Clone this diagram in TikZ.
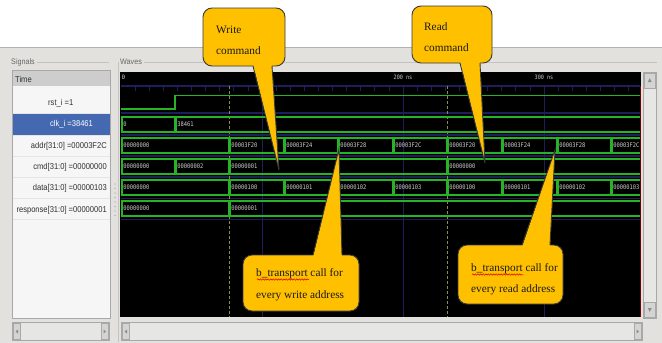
\documentclass[tikz,border=0pt]{standalone}
\usepackage{fontspec}
\setmainfont{Liberation Serif}
\setsansfont{Liberation Sans}
\newfontfamily\wavemono{DejaVu Sans Mono}
\usetikzlibrary{decorations.pathmorphing}

\definecolor{winbg}{HTML}{E2E1DD}
\definecolor{listbg}{HTML}{F6F6F6}
\definecolor{timebg}{HTML}{CDCDCD}
\definecolor{selbg}{HTML}{4469B0}
\definecolor{wavegreen}{HTML}{26B426}
\definecolor{gridnavy}{HTML}{1E1E5C}
\definecolor{cursorcol}{HTML}{8C8C52}
\definecolor{calloutfill}{HTML}{FFC000}
\definecolor{calloutedge}{HTML}{3A3A3A}
\definecolor{valgray}{HTML}{CCCCCC}
\definecolor{labelgray}{HTML}{303030}
\definecolor{framegray}{HTML}{A8A8A8}
\definecolor{barbg}{HTML}{E6E6E4}

% condensed text for the signal names and values
\newcommand\narrowtext[2]{\scalebox{#1}[1]{#2}}

\tikzset{
  bus/.style={draw=wavegreen, line width=1.4pt},
  wire/.style={draw=wavegreen, line width=1.4pt},
  busval/.style={anchor=west, inner sep=0pt, text=valgray,
    font=\wavemono\fontsize{6.3}{7}\selectfont},
  siglabel/.style={inner sep=0pt, text=labelgray,
    font=\sffamily\fontsize{8.5}{9}\selectfont},
  paneltitle/.style={anchor=west, inner sep=0pt, text=black!60,
    font=\sffamily\fontsize{8}{9}\selectfont},
  rulerlabel/.style={inner sep=0pt, text=valgray,
    font=\wavemono\fontsize{6}{7}\selectfont},
  gridline/.style={draw=gridnavy, line width=0.9pt},
  rowsep/.style={draw=gridnavy, line width=1.4pt},
  cursorline/.style={draw=cursorcol, line width=0.9pt, dash pattern=on 3pt off 2pt},
  calloutbox/.style={fill=calloutfill, draw=calloutedge, line width=0.9pt, rounded corners=9pt},
  callouttail/.style={fill=calloutfill},
  tailedge/.style={draw=calloutedge, line width=0.9pt},
  callouttext/.style={anchor=base west, inner sep=0pt, text=black!90,
    font=\rmfamily\fontsize{11.3}{13}\selectfont},
  squiggle/.style={draw=red!85!black, line width=0.5pt, decorate,
    decoration={snake, amplitude=0.7pt, segment length=2.6pt}},
  scrollbox/.style={fill=barbg, draw=framegray, line width=0.6pt},
  scrollbtn/.style={fill=barbg!92!black, draw=framegray, line width=0.5pt},
}

% one bus signal: name, top, bottom, middle, list of start/end/value
\newcommand\busrow[5]{%
  \foreach \a/\b/\t [count=\k] in {#5} {
    \draw[bus] (\a+0.8,#2) rectangle (\b-0.8,#3);
    \node[busval] (#1\k) at (\a+2.2,#4) {\narrowtext{0.86}{\t}};
  }%
}

\begin{document}
\begin{tikzpicture}[x=1pt,y=-1pt]
\useasboundingbox (0,0) rectangle (662,343);

% window background
\fill[white] (0,0) rectangle (662,47);
\fill[winbg] (0,47) rectangle (662,343);
\draw[black!30, line width=0.6pt] (0,47.5) -- (662,47.5);

% group frames
\node[paneltitle] (sigtitle) at (11,62) {\narrowtext{0.9}{Signals}};
\node[paneltitle] (wavtitle) at (120,62) {\narrowtext{0.9}{Waves}};
\draw[framegray!70, line width=0.5pt] (sigtitle.east) ++(2,0) -- (109,62);
\draw[framegray!70, line width=0.5pt] (wavtitle.east) ++(2,0) -- (657,62);
\draw[framegray!70, line width=0.5pt] (118,62) -- (118,342);

% signal list
\fill[listbg] (12,70) rectangle (110,318);
\fill[timebg] (12,71) rectangle (110,86);
\node[siglabel, anchor=west] (timelbl) at (15,79) {\narrowtext{0.89}{Time}};
\foreach \y in {113.5,135,156,177,198.5,219.5}
  \draw[black!10, line width=0.4pt] (12,\y) -- (110,\y);
\fill[selbg] (13,114) rectangle (110,134.5);
\node[siglabel, anchor=west] (lrst) at (48,103) {\narrowtext{0.89}{rst\_i =1}};
\node[siglabel, anchor=west, text=white] (lclk) at (50,124.5) {\narrowtext{0.89}{clk\_i =38461}};
\node[siglabel, anchor=east] (laddr) at (107,146) {\narrowtext{0.89}{addr[31:0] =00003F2C}};
\node[siglabel, anchor=east] (lcmd) at (107,167) {\narrowtext{0.89}{cmd[31:0] =00000000}};
\node[siglabel, anchor=east] (ldata) at (107,188) {\narrowtext{0.89}{data[31:0] =00000103}};
\node[siglabel, anchor=east] (lresp) at (107,210) {\narrowtext{0.89}{response[31:0] =00000001}};
\draw[framegray, line width=0.5pt] (12,70) rectangle (110,318);

% splitter grip
\foreach \y in {184,188.5,...,216}
  \fill[black!40] (115,\y) circle (0.7pt);

% wave area
\fill[black] (120,72) rectangle (641,317);

% ruler
\draw[gridnavy, line width=1.4pt] (121,86) -- (640,86);
\foreach \i in {1,...,36}
  \draw[gridnavy, line width=0.8pt] (121+\i*14.1,86) -- ++(0,4.5);
\node[rulerlabel, anchor=west] (r0) at (121.5,77) {0};
\node[rulerlabel] (r200) at (403,77) {\narrowtext{0.86}{200 ns}};
\node[rulerlabel] (r300) at (544,77) {\narrowtext{0.86}{300 ns}};

% major grid lines
\foreach \x in {262,403,544}
  \draw[gridline] (\x,86) -- (\x,317);

% row separators
\foreach \y in {113,135,156,177,198.5,219.5}
  \draw[rowsep] (121,\y) -- (640,\y);

% cursors
\draw[cursorline] (229,86) -- (229,317);
\draw[cursorline] (447,86) -- (447,317);

% rst_i
\draw[wire] (121,109) -- (175,109) -- (175,95.5) -- (640,95.5);

% buses
\busrow{clk}{117}{132}{124.5}{121/175/0, 175/641/38461}
\busrow{addr}{138}{153}{145.5}{121/229/00000000, 229/284/00003F20, 284/338/00003F24,
  338/393/00003F28, 393/447/00003F2C, 447/502/00003F20, 502/557/00003F24,
  557/611/00003F28, 611/641/00003F2C}
\busrow{cmd}{159}{174}{166.5}{121/175/00000000, 175/229/00000002, 229/447/00000001,
  447/641/00000000}
\busrow{data}{180}{195}{187.5}{121/229/00000000, 229/284/00000100, 284/338/00000101,
  338/393/00000102, 393/447/00000103, 447/502/00000100, 502/557/00000101,
  557/611/00000102, 611/641/00000103}
\busrow{resp}{201}{216}{208.5}{121/229/00000000, 229/641/00000001}

% end of simulation marker
\draw[red!45!black, line width=0.8pt] (640.5,86) -- (640.5,317);

% right scrollbar
\draw[scrollbox] (643.5,72) rectangle (656,318);
\draw[scrollbtn] (644.5,73) rectangle (655,88);
\draw[scrollbtn] (644.5,302) rectangle (655,317);
\fill[black!45] (649.75,78) -- (647.8,82) -- (651.7,82) -- cycle;
\fill[black!45] (649.75,312) -- (647.8,308) -- (651.7,308) -- cycle;

% bottom scrollbars
\draw[scrollbox] (12.5,322.5) rectangle (109,340.5);
\draw[scrollbtn] (13.5,323.5) rectangle (20,339.5);
\draw[scrollbtn] (101.5,323.5) rectangle (108,339.5);
\draw[scrollbox] (121.5,322.5) rectangle (642,340.5);
\draw[scrollbtn] (122.5,323.5) rectangle (129,339.5);
\draw[scrollbtn] (634.5,323.5) rectangle (641,339.5);
\fill[black!45] (15.5,331.5) -- (18,329.5) -- (18,333.5) -- cycle;
\fill[black!45] (106,331.5) -- (103.5,329.5) -- (103.5,333.5) -- cycle;
\fill[black!45] (124.5,331.5) -- (127,329.5) -- (127,333.5) -- cycle;
\fill[black!45] (639,331.5) -- (636.5,329.5) -- (636.5,333.5) -- cycle;

% callout: write command
\draw[calloutbox] (203,8) rectangle (285,66);
\coordinate (wtip) at (279,170);
\fill[callouttail] (253,64) -- (272,64) -- (wtip) -- cycle;
\draw[tailedge] (253,66) -- (wtip) -- (272,66);
\node[callouttext] (wline1) at (216,33) {Write};
\node[callouttext] (wline2) at (216,54) {command};

% callout: read command
\draw[calloutbox] (412,6) rectangle (492,63);
\coordinate (rtip) at (485,163);
\fill[callouttail] (460,61) -- (480,61) -- (rtip) -- cycle;
\draw[tailedge] (460,63) -- (rtip) -- (480,63);
\node[callouttext] (rline1) at (424,30) {Read};
\node[callouttext] (rline2) at (424,51) {command};

% callout: b_transport for writes
\draw[calloutbox] (243,255) rectangle (359,311);
\coordinate (btip) at (339,149);
\fill[callouttail] (313,257) -- (342,257) -- (btip) -- cycle;
\draw[tailedge] (313,255) -- (btip) -- (342,255);
\node[callouttext] (bline1) at (256,276) {b\_transport call for};
\node[callouttext] (bline2) at (256,298) {every write address};
\draw[squiggle] (257,279.5) -- (309,279.5);

% callout: b_transport for reads
\draw[calloutbox] (458,245) rectangle (563,304);
\coordinate (ctip) at (555,150);
\fill[callouttail] (522,247) -- (550,247) -- (ctip) -- cycle;
\draw[tailedge] (522,245) -- (ctip) -- (550,245);
\node[callouttext] (cline1) at (471,271) {b\_transport call for};
\node[callouttext] (cline2) at (471,292) {every read address};
\draw[squiggle] (472,274.5) -- (523,274.5);

\end{tikzpicture}
\end{document}
